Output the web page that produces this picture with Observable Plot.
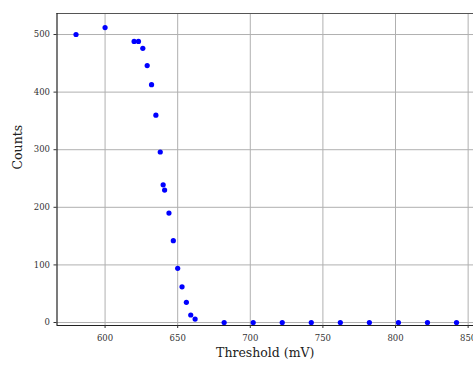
<!DOCTYPE html>
<html>
<head>
<meta charset="utf-8">
<script src="https://cdn.jsdelivr.net/npm/d3@7"></script>
<script src="https://cdn.jsdelivr.net/npm/@observablehq/plot@0.6"></script>
<style>
  html, body { margin: 0; padding: 0; background: #fff; overflow: hidden; }
  #chart svg, #chart svg text { font-family: "DejaVu Serif", "Liberation Serif", serif !important; }
</style>
</head>
<body>
<div id="chart"></div>
<script>
const thresholds = [580, 600, 620, 623, 626, 629, 632, 635, 638, 640, 641, 644, 647, 650, 653, 656, 659, 662, 682, 702, 722, 742, 762, 782, 802, 822, 842];
const counts     = [500, 512, 488, 488, 476, 446, 413, 360, 296, 239, 230, 190, 142, 94, 62, 35, 13, 6, 0, 0, 0, 0, 0, 0, 0, 0, 0];
const xTicks = [600, 650, 700, 750, 800, 850];
const yTicks = [0, 100, 200, 300, 400, 500];

const data = thresholds.map((t, i) => ({threshold: t, count: counts[i]}));
const xDomain = [566.9, 853.7];
const yDomain = [-5.2, 536.5];

const chart = Plot.plot({
  width: 473,
  height: 365,
  marginLeft: 56.5,
  marginRight: 0,
  marginTop: 13,
  marginBottom: 40,
  style: {fontFamily: "DejaVu Serif, serif", fontSize: "8.5px", color: "#333", background: "#fff"},
  x: {domain: xDomain},
  y: {domain: yDomain},
  marks: [
    Plot.gridX(xTicks, {stroke: "#b0b0b0", strokeOpacity: 1, strokeWidth: 1}),
    Plot.gridY(yTicks, {stroke: "#b0b0b0", strokeOpacity: 1, strokeWidth: 1}),
    Plot.ruleY([yDomain[1]], {stroke: "#555", strokeWidth: 1.2}),
    Plot.ruleY([yDomain[0]], {stroke: "#222", strokeWidth: 1.2}),
    Plot.ruleX([xDomain[0]], {stroke: "#222", strokeWidth: 1.2}),
    Plot.axisX(xTicks, {tickSize: 3, tickPadding: 6, label: null, fontSize: 8.5, fill: "#333"}),
    Plot.axisY(yTicks, {tickSize: 3, tickPadding: 4, label: null, fontSize: 8.5, fill: "#333"}),
    Plot.dot(data, {x: "threshold", y: "count", r: 2.6, fill: "#0000ff", stroke: null}),
    Plot.text(["Threshold (mV)"], {frameAnchor: "bottom", dy: 31, fontSize: 12.5, fill: "#222"}),
    Plot.text(["Counts"], {frameAnchor: "left", dx: -39, rotate: -90, fontSize: 12.5, fill: "#222"})
  ]
});
document.getElementById("chart").appendChild(chart);
</script>
</body>
</html>
